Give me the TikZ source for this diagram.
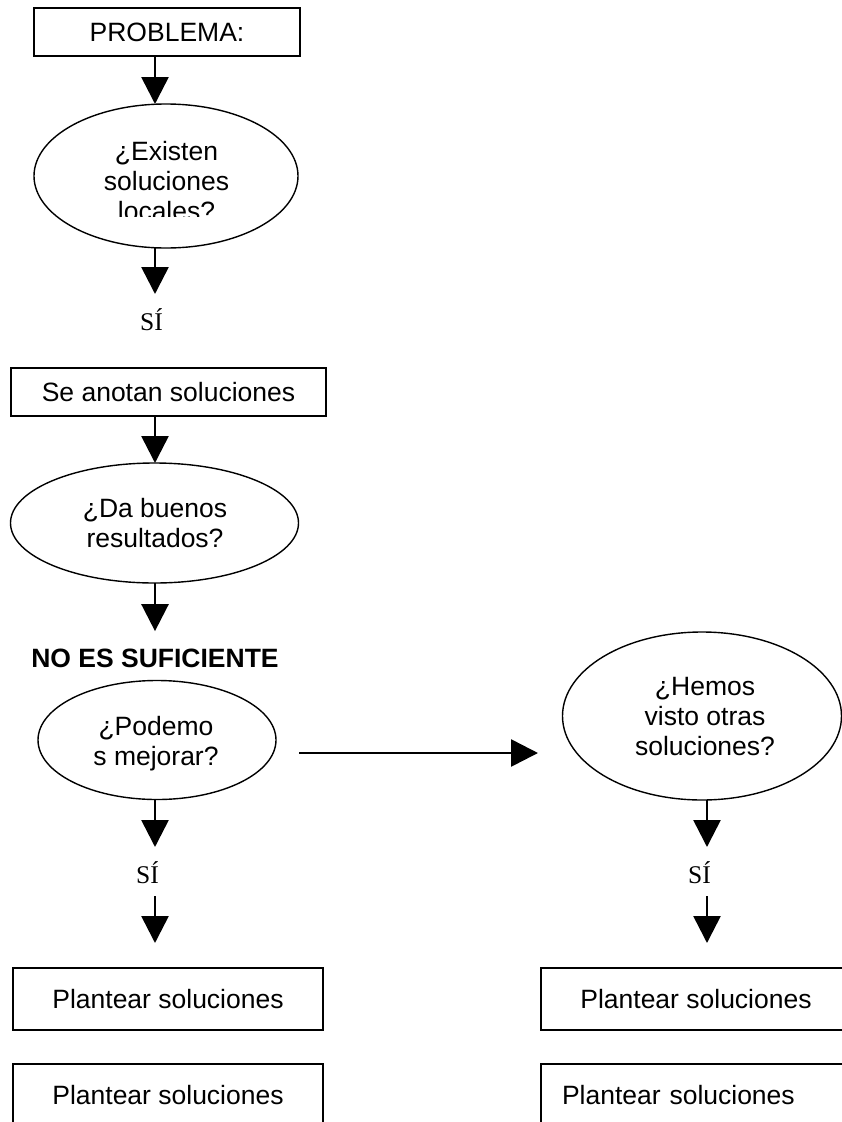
\documentclass[tikz,border=0pt]{standalone}
\usepackage{fontspec}
\setmainfont{Liberation Sans}
\newfontfamily\siserif{Liberation Serif}
\usetikzlibrary{arrows.meta,shapes.geometric}
\begin{document}
\begin{tikzpicture}[x=1pt,y=-1pt,
  every node/.style={inner sep=0pt, outer sep=0pt},
  body/.style={font=\fontsize{26.5}{30}\selectfont, align=center},
  box/.style={body, draw, line width=1.4pt, rectangle},
  oval/.style={draw, line width=1.4pt, ellipse},
  yes/.style={font=\siserif\fontsize{25.5}{30}\selectfont, anchor=base,
    text height=17pt, text depth=0pt},
  arr/.style={line width=2.6pt, -{Triangle[width=27pt,length=27pt]}},
]
\useasboundingbox (0,0) rectangle (842,1122);
\clip (0,0) rectangle (842,1122);

% columns of the vertical arrows and height of the horizontal one
\coordinate (colL) at (155,0);
\coordinate (colR) at (707,0);
\coordinate (across) at (0,753);

% left column
\node[box, minimum width=266pt, minimum height=48pt] (prob) at (167,32) {PROBLEMA:};
\node[oval, minimum width=264pt, minimum height=144pt] (q1) at (166,176) {};
\begin{scope}
  \clip (30,100) rectangle (305,216.7);
  \node[body] (q1t) at (166.5,181) {¿Existen\\soluciones\\locales?};
\end{scope}
\node[yes] (si1) at (151.5,330) {SÍ};
\node[box, minimum width=315pt, minimum height=48pt] (anota) at (168.5,392) {Se anotan soluciones};
\node[oval, minimum width=288pt, minimum height=120pt] (q2) at (154.5,523) {};
\node[body] (q2t) at (155,523.5) {¿Da buenos\\resultados?};
\node[body, font=\bfseries\fontsize{26.5}{30}\selectfont] (nosuf) at (155,658) {NO ES SUFICIENTE};
\node[oval, minimum width=238pt, minimum height=119pt] (q3) at (157,740) {};
\node[body] (q3t) at (156,744) {¿Podemo\\s mejorar?};
\node[yes] (si2) at (147.5,883) {SÍ};
\node[box, minimum width=310pt, minimum height=62pt] (plan1) at (168,999) {Plantear soluciones};
\node[box, minimum width=310pt, minimum height=62pt] (plan2) at (168,1095) {Plantear soluciones};

% right column
\node[oval, minimum width=279pt, minimum height=168pt] (q4) at (702,716) {};
\node[body] (q4t) at (705,716.5) {¿Hemos\\visto otras\\soluciones?};
\node[yes] (si3) at (699.5,883) {SÍ};
\node[box, minimum width=310pt, minimum height=62pt] (plan3) at (696,999) {Plantear soluciones};
\node[box, minimum width=310pt, minimum height=62pt, text width=268pt,
  inner xsep=21pt, align=left] (plan4) at (696,1095) {Plantear soluciones};

% connectors
\draw[arr] (prob.south -| colL) -- (q1.north -| colL);
\draw[arr, shorten >=19pt] (q1.south -| colL) -- (si1.north -| colL);
\draw[arr] (anota.south -| colL) -- (q2.north -| colL);
\draw[arr, shorten >=17.5pt] (q2.south -| colL) -- (nosuf.north -| colL);
\draw[arr, shorten >=19pt] (q3.south -| colL) -- (si2.north -| colL);
\draw[arr, shorten <=13pt, shorten >=25pt] (si2.south -| colL) -- (plan1.north -| colL);
\draw[arr, shorten <=23pt, shorten >=24.5pt] (q3.east |- across) -- (q4.west |- across);
\draw[arr, shorten >=19pt] (q4.south -| colR) -- (si3.north -| colR);
\draw[arr, shorten <=13pt, shorten >=25pt] (si3.south -| colR) -- (plan3.north -| colR);
\end{tikzpicture}
\end{document}
